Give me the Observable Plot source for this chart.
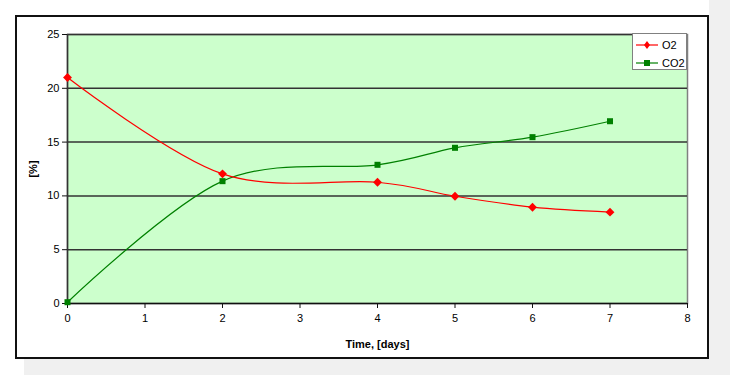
<!DOCTYPE html>
<html>
<head>
<meta charset="utf-8">
<script src="https://cdn.jsdelivr.net/npm/d3@7"></script>
<script src="https://cdn.jsdelivr.net/npm/@observablehq/plot@0.6"></script>
<style>
  html, body { margin: 0; padding: 0; background: #fff; }
  #wrap { position: relative; width: 730px; height: 375px; overflow: hidden; font-family: "Liberation Sans", Arial, sans-serif; }
  .gray { position: absolute; background: #f0f0f0; }
  #frame { position: absolute; left: 15px; top: 15px; width: 690px; height: 340px; border: 2px solid #111; background: #fff; }
  #chart { position: absolute; left: 0; top: 0; }
  #chart svg { overflow: visible; }
  g[aria-label="x-axis label"] text, g[aria-label="y-axis label"] text { font-weight: bold; }
  #legend { position: absolute; left: 632px; top: 33px; width: 53px; height: 35px; background: #fff; border: 1.5px solid #808080; font-size: 11px; }
  .item { position: absolute; left: 3px; height: 14px; display: flex; align-items: center; }
  .item span { margin-left: 4px; color: #000; }
</style>
</head>
<body>
<div id="wrap">
  <div class="gray" style="left:709px;top:0;width:21px;height:375px"></div>
  <div class="gray" style="left:24px;top:359px;width:706px;height:16px"></div>
  <div id="frame"></div>
  <div id="chart"></div>
  <div id="legend"></div>
</div>
<script>
const days = [0, 2, 4, 5, 6, 7];
const o2 = [21.0, 12.05, 11.27, 9.97, 8.95, 8.49];
const co2 = [0.12, 11.37, 12.89, 14.47, 15.46, 16.94];
const seriesNames = ["O2", "CO2"];
const seriesColors = ["#ff0000", "#008000"];
const xTicks = [0, 1, 2, 3, 4, 5, 6, 7, 8];
const yTicks = [0, 5, 10, 15, 20, 25];
const gridY = [5, 10, 15, 20];

const O2 = days.map((d, i) => ({x: d, y: o2[i]}));
const CO2 = days.map((d, i) => ({x: d, y: co2[i]}));

const chart = Plot.plot({
  width: 730,
  height: 375,
  marginLeft: 67,
  marginRight: 43,
  marginTop: 34,
  marginBottom: 72,
  style: {background: "transparent", fontFamily: "Liberation Sans, Arial, sans-serif", fontSize: "11px", color: "#000"},
  x: {domain: [0, 8]},
  y: {domain: [0, 25]},
  marks: [
    Plot.frame({fill: "#ccffcc", stroke: "#808080", strokeWidth: 1.5}),
    Plot.ruleY(gridY, {stroke: "#333", strokeWidth: 1.5}),
    Plot.ruleY([25], {stroke: "#333", strokeWidth: 1.5}),
    Plot.ruleY([0], {stroke: "#111", strokeWidth: 1.5}),
    Plot.ruleX([0], {stroke: "#333", strokeWidth: 1.5}),
    Plot.axisX({ticks: xTicks, tickSize: 5, tickPadding: 6, label: "Time, [days]", labelAnchor: "center", labelArrow: "none", labelOffset: 44, stroke: "#111"}),
    Plot.axisY({ticks: yTicks, tickSize: 5, tickPadding: 3, label: "[%]", labelAnchor: "center", labelArrow: "none", labelOffset: 38, stroke: "#111"}),
    Plot.line(CO2, {x: "x", y: "y", stroke: seriesColors[1], strokeWidth: 1.2, curve: "cardinal", tension: 0}),
    Plot.line(O2, {x: "x", y: "y", stroke: seriesColors[0], strokeWidth: 1.2, curve: "cardinal", tension: 0}),
    Plot.dot(CO2, {x: "x", y: "y", symbol: "square", r: 3.4, fill: seriesColors[1], stroke: "none"}),
    Plot.dot(O2, {x: "x", y: "y", symbol: "diamond2", r: 4, fill: seriesColors[0], stroke: "none"})
  ]
});
document.getElementById("chart").appendChild(chart);

// legend
const legend = document.getElementById("legend");
const shapes = [
  '<path d="M11,3 L14,7 L11,11 L8,7 Z" fill="#ff0000"/>',
  '<rect x="8" y="4" width="6" height="6" fill="#008000"/>'
];
seriesNames.forEach((name, i) => {
  const div = document.createElement("div");
  div.className = "item";
  div.style.top = (i === 0 ? 4 : 22) + "px";
  div.innerHTML = `<svg width="22" height="14"><line x1="0" x2="22" y1="7" y2="7" stroke="${seriesColors[i]}" stroke-width="1.2"/>${shapes[i]}</svg><span>${name}</span>`;
  legend.appendChild(div);
});
</script>
</body>
</html>
